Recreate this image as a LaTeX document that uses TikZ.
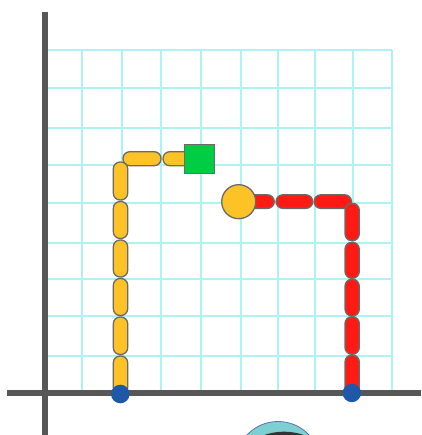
\documentclass[tikz,border=0pt]{standalone}
\definecolor{gridc}{HTML}{AEF2F2}
\definecolor{axisc}{HTML}{575757}
\definecolor{yel}{HTML}{FDC326}
\definecolor{redc}{HTML}{FF1A14}
\definecolor{grn}{HTML}{00CC44}
\definecolor{outl}{HTML}{6A6A6A}
\definecolor{dotc}{HTML}{1F58A6}
\definecolor{tealc}{HTML}{7DCFD2}
\definecolor{tealo}{HTML}{5B73B5}
\tikzset{
  gridline/.style={draw=gridc, line width=2pt},
  axisline/.style={draw=axisc, line width=6pt},
  ycap/.style={fill=yel, draw=outl, line width=1.3pt, rounded corners=6.8pt},
  rcap/.style={fill=redc, draw=outl, line width=1.3pt, rounded corners=6.8pt},
  dotstyle/.style={fill=dotc, draw=none},
}
\begin{document}
\begin{tikzpicture}[x=1pt,y=-1pt]
\useasboundingbox (0,0) rectangle (421,435);
\fill[white] (0,0) rectangle (421,435);
% grid
\foreach \gx in {82,122,161,201,241,278,315,353,392}
  \draw[gridline] (\gx,50) -- (\gx,392);
\foreach \gy in {50,88,128,165,203,243,279,316,356}
  \draw[gridline] (45,\gy) -- (392,\gy);
% bottom partial circle
\begin{scope}
\clip (0,0) rectangle (421,435);
\filldraw[fill=tealc, draw=tealo, line width=0.8pt] (278,464) circle (42.5);
\begin{scope}
\clip (278,464) circle (42);
\fill[black!80] (284,491.7) circle (60);
\end{scope}
\end{scope}
% axes
\draw[axisline] (45,12) -- (45,435);
\draw[axisline] (7,392.5) -- (421,392.5);
% yellow snake
\filldraw[ycap] (163,151.7) rectangle (205,165.7);
\filldraw[ycap] (123,151.7) rectangle (161,165.7);
\foreach \ya/\yb in {356/394,317/354.5,278.5/315.5,240/277,201.5/238.5,162/200}
  \filldraw[ycap] (113.3,\ya) rectangle (127.7,\yb);
% green square
\filldraw[fill=grn, draw=outl, line width=1.3pt] (184.5,144.5) rectangle (214.5,173.5);
% red snake
\foreach \xa/\xb in {235/274.3,276/312.7,314/351.5}
  \filldraw[rcap] (\xa,194.8) rectangle (\xb,208.4);
\foreach \ya/\yb in {355/394,316.7/354.3,279.3/316,242.3/278.3,203.3/240.7}
  \filldraw[rcap] (345,\ya) rectangle (359.3,\yb);
% yellow circle
\filldraw[fill=yel, draw=outl, line width=1.3pt] (238.7,201.7) circle (17);
% blue dots
\fill[dotstyle] (120.3,394) circle (9.3);
\fill[dotstyle] (351.8,393) circle (9.2);
\end{tikzpicture}
\end{document}
